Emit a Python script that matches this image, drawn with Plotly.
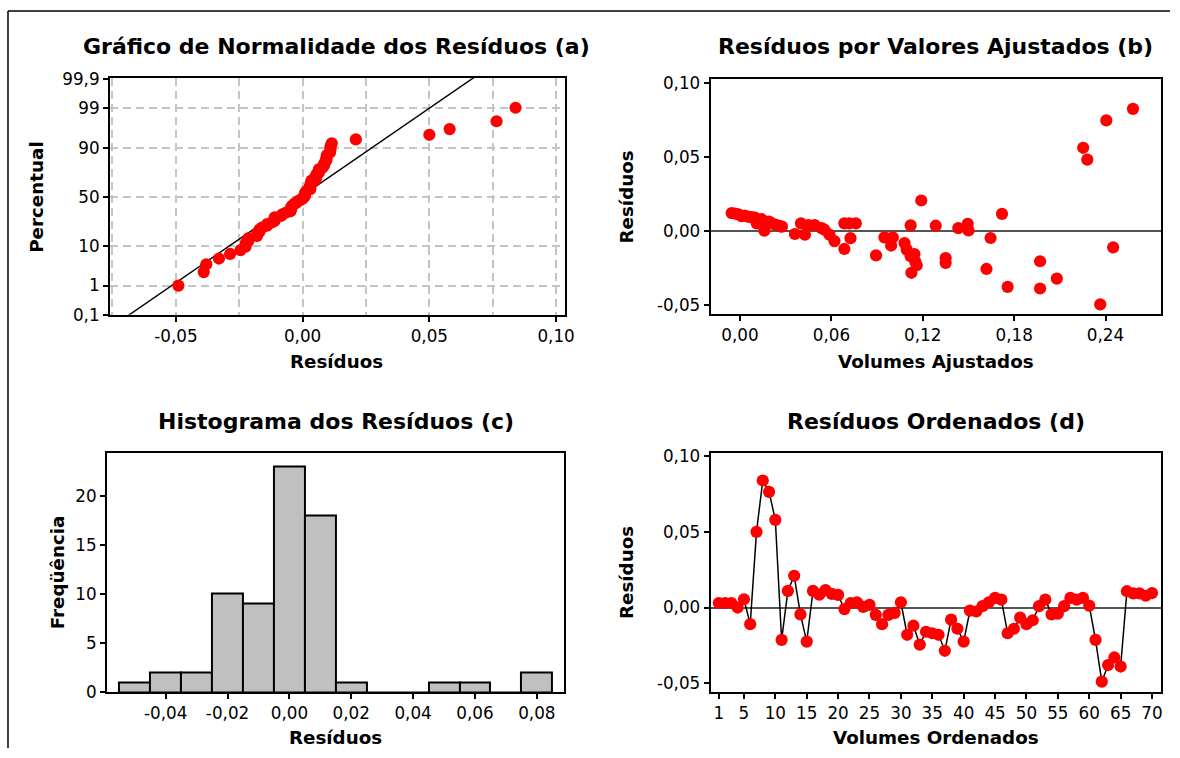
from statistics import NormalDist
import numpy as np
import plotly.graph_objects as go

# Residuals in observation order (panel d)
residuos = [
    0.0030, 0.0030, 0.0030, 0.0000, 0.0055, -0.0110, 0.0500, 0.0840, 0.0765, 0.0580,
    -0.0214, 0.0110, 0.0210, -0.0045, -0.0225, 0.0110, 0.0085, 0.0115, 0.0090, 0.0084,
    -0.0010, 0.0030, 0.0035, 0.0004, 0.0018, -0.0048, -0.0110, -0.0048, -0.0035, 0.0035,
    -0.0180, -0.0120, -0.0245, -0.0160, -0.0170, -0.0180, -0.0286, -0.0080, -0.0140, -0.0225,
    -0.0020, -0.0026, 0.0009, 0.0035, 0.0064, 0.0052, -0.0170, -0.0140, -0.0067, -0.0110,
    -0.0084, 0.0009, 0.0052, -0.0045, -0.0040, 0.0009, 0.0064, 0.0052, 0.0064, 0.0013,
    -0.0214, -0.0490, -0.0380, -0.0330, -0.0390, 0.0108, 0.0094, 0.0094, 0.0078, 0.0096,
]
ordem = list(range(1, len(residuos) + 1))

# Fitted volumes and their residuals (panel b)
ajustados_b = [
    -0.0055, -0.0033, -0.0010, 0.0010, 0.0030, 0.0044, 0.0060, 0.0077, 0.0098, 0.0110,
    0.0120, 0.0140, 0.0160, 0.0175, 0.0190, 0.0208, 0.0230, 0.0250, 0.0267, 0.0275,
    0.0360, 0.0400, 0.0426, 0.0448, 0.0490, 0.0535, 0.0554, 0.0587, 0.0620, 0.0685,
    0.0685, 0.0718, 0.0725, 0.0760, 0.0893, 0.0948, 0.0992, 0.1003, 0.1080, 0.1094,
    0.1120, 0.1125, 0.1120, 0.1145, 0.1150, 0.1160, 0.1190, 0.1285, 0.1350, 0.1350,
    0.1433, 0.1495, 0.1500, 0.1618, 0.1645, 0.1720, 0.1757, 0.1970, 0.1970, 0.2080,
    0.2253, 0.2280, 0.2365, 0.2405, 0.2450, 0.2580,
]
residuos_b = [
    0.0119, 0.0116, 0.0110, 0.0098, 0.0102, 0.0096, 0.0094, 0.0092, 0.0088, 0.0050,
    0.0065, 0.0078, 0.0000, 0.0060, 0.0062, 0.0050, 0.0042, 0.0035, 0.0030, 0.0028,
    -0.0022, 0.0050, -0.0027, 0.0038, 0.0038, 0.0018, 0.0007, -0.0027, -0.0070, -0.0123,
    0.0050, 0.0050, -0.0050, 0.0050, -0.0166, -0.0045, -0.0100, -0.0045, -0.0083, -0.0128,
    -0.0172, -0.0284, 0.0036, -0.0157, -0.0206, -0.0233, 0.0204, 0.0034, -0.0184, -0.0217,
    0.0018, 0.0047, 0.0002, -0.0258, -0.0049, 0.0114, -0.0379, -0.0206, -0.0390, -0.0323,
    0.0560, 0.0480, -0.0497, 0.0745, -0.0112, 0.0823,
]

# Histogram of residuals (panel c)
centros_hist = [-0.05, -0.04, -0.03, -0.02, -0.01, 0.00, 0.01, 0.02, 0.03, 0.04, 0.05, 0.06, 0.07, 0.08]
freq_hist = [1, 2, 2, 10, 9, 23, 18, 1, 0, 0, 1, 1, 0, 2]

# Tick labels
pct_ticks = [0.1, 1, 10, 50, 90, 99, 99.9]
pct_labels = ["0,1", "1", "10", "50", "90", "99", "99,9"]
xa_ticks = [-0.05, 0.0, 0.05, 0.10]
xa_labels = ["-0,05", "0,00", "0,05", "0,10"]
res_ticks = [-0.05, 0.0, 0.05, 0.10]
res_labels = ["-0,05", "0,00", "0,05", "0,10"]
aj_ticks = [0.0, 0.06, 0.12, 0.18, 0.24]
aj_labels = ["0,00", "0,06", "0,12", "0,18", "0,24"]
hx_ticks = [-0.04, -0.02, 0.0, 0.02, 0.04, 0.06, 0.08]
hx_labels = ["-0,04", "-0,02", "0,00", "0,02", "0,04", "0,06", "0,08"]
hy_ticks = [0, 5, 10, 15, 20]
ord_ticks = [1, 5, 10, 15, 20, 25, 30, 35, 40, 45, 50, 55, 60, 65, 70]

W, H = 1180, 758
# Page-to-figure placement factors (layout positions below are page pixels)
SX, SY, OY = 0.992, 0.976, 8.0
nd = NormalDist()

# Normal probability plot: median ranks on a normal-quantile scale
ordenados = np.sort(np.array(residuos))
n = len(ordenados)
post = [(i - 0.3) / (n + 0.4) for i in range(1, n + 1)]
z_pts = [nd.inv_cdf(p) for p in post]
media = float(np.mean(residuos))
desvio = float(np.std(residuos, ddof=1))
z_line = [-3.4, 3.4]
x_line = [media + desvio * z for z in z_line]
z_ticks = [nd.inv_cdf(p / 100.0) for p in pct_ticks]

RED = "#FF0000"
TICK_FONT = dict(family="DejaVu Sans, Verdana, sans-serif", size=16.8, color="black")
BOLD = "DejaVu Sans, Verdana, sans-serif"


def fx(px):
    return min(1.0, max(0.0, (px / SX) / W))


def fy(py):
    return min(1.0, max(0.0, 1 - ((py - OY) / SY) / H))


fig = go.Figure()

# (a) normal probability plot
fig.add_trace(go.Scatter(x=x_line, y=z_line, mode="lines",
                         line=dict(color="black", width=1.4),
                         xaxis="x", yaxis="y", showlegend=False))
fig.add_trace(go.Scatter(x=ordenados, y=z_pts, mode="markers",
                         marker=dict(color=RED, size=12.2),
                         xaxis="x", yaxis="y", showlegend=False))

# (b) residuals vs fitted values
fig.add_trace(go.Scatter(x=ajustados_b, y=residuos_b, mode="markers",
                         marker=dict(color=RED, size=12.2),
                         xaxis="x2", yaxis="y2", showlegend=False))

# (c) histogram
fig.add_trace(go.Bar(x=centros_hist, y=freq_hist, width=0.01,
                     marker=dict(color="#C0C0C0", line=dict(color="black", width=2)),
                     xaxis="x3", yaxis="y3", showlegend=False))

# (d) residuals in order
fig.add_trace(go.Scatter(x=ordem, y=residuos, mode="lines+markers",
                         line=dict(color="black", width=1.5),
                         marker=dict(color=RED, size=12.2),
                         xaxis="x4", yaxis="y4", showlegend=False))

box = dict(showline=True, linecolor="black", linewidth=2, mirror=True,
           ticks="outside", ticklen=5, tickwidth=1.5, tickcolor="black",
           tickfont=TICK_FONT, showgrid=False, zeroline=False, tickmode="array")

grid = dict(showgrid=True, gridcolor="#C4C4C4", gridwidth=2, griddash="8px,5px")

fig.update_layout(
    width=W, height=H,
    margin=dict(l=0, r=0, t=0, b=0),
    paper_bgcolor="white", plot_bgcolor="white",
    bargap=0,
    xaxis=dict(box, **grid, domain=[fx(110), fx(565)], range=[-0.076, 0.1034],
               tickvals=xa_ticks, ticktext=xa_labels, anchor="y",
               minor=dict(tickmode="array", tickvals=[-0.075, -0.025, 0.025, 0.075],
                          showgrid=True, gridcolor="#C4C4C4", gridwidth=2,
                          griddash="8px,5px", ticks="")),
    yaxis=dict(box, **grid, domain=[fy(314), fy(77)], range=[-3.09, 3.11],
               tickvals=z_ticks, ticktext=pct_labels, anchor="x"),
    xaxis2=dict(box, domain=[fx(711), fx(1162)], range=[-0.0193, 0.2767],
                tickvals=aj_ticks, ticktext=aj_labels, anchor="y2"),
    yaxis2=dict(box, domain=[fy(313), fy(78)], range=[-0.056, 0.1025],
                tickvals=res_ticks, ticktext=res_labels, anchor="x2",
                zeroline=True, zerolinecolor="#555555", zerolinewidth=2),
    xaxis3=dict(box, domain=[fx(107), fx(564)], range=[-0.059, 0.0887],
                tickvals=hx_ticks, ticktext=hx_labels, anchor="y3"),
    yaxis3=dict(box, domain=[fy(692), fy(452)], range=[0, 24.4],
                tickvals=hy_ticks, anchor="x3"),
    xaxis4=dict(box, domain=[fx(711), fx(1162)], range=[-0.3, 71.5],
                tickvals=ord_ticks, anchor="y4"),
    yaxis4=dict(box, domain=[fy(692), fy(452)], range=[-0.056, 0.1025],
                tickvals=res_ticks, ticktext=res_labels, anchor="x4",
                zeroline=True, zerolinecolor="#555555", zerolinewidth=2),
)

# Titles and axis labels
textos = [
    ("Gráfico de Normalidade dos Resíduos (a)", 337, 46, 22, 0),
    ("Resíduos por Valores Ajustados (b)", 936, 46, 22, 0),
    ("Histograma dos Resíduos (c)", 336, 421, 22, 0),
    ("Resíduos Ordenados (d)", 936, 421, 22, 0),
    ("Resíduos", 337, 361, 18.3, 0),
    ("Volumes Ajustados", 936, 361, 18.3, 0),
    ("Resíduos", 336, 737, 18.3, 0),
    ("Volumes Ordenados", 936, 737, 18.3, 0),
    ("Percentual", 37, 196, 18.3, -90),
    ("Resíduos", 627, 196, 18.3, -90),
    ("Freqüência", 57, 572, 18.3, -90),
    ("Resíduos", 627, 572, 18.3, -90),
]
for txt, px, py, sz, ang in textos:
    fig.add_annotation(text="<b>%s</b>" % txt, x=fx(px), y=fy(py), xref="paper", yref="paper",
                       showarrow=False, textangle=ang, xanchor="center", yanchor="middle",
                       font=dict(family=BOLD, size=sz, color="black"))

# Outer frame lines
fig.add_shape(type="line", xref="paper", yref="paper", x0=fx(8), x1=1, y0=fy(10), y1=fy(10),
              line=dict(color="black", width=1.5))
fig.add_shape(type="line", xref="paper", yref="paper", x0=fx(8), x1=fx(8), y0=fy(10), y1=0,
              line=dict(color="black", width=1.5))

fig.write_html("out.html")
